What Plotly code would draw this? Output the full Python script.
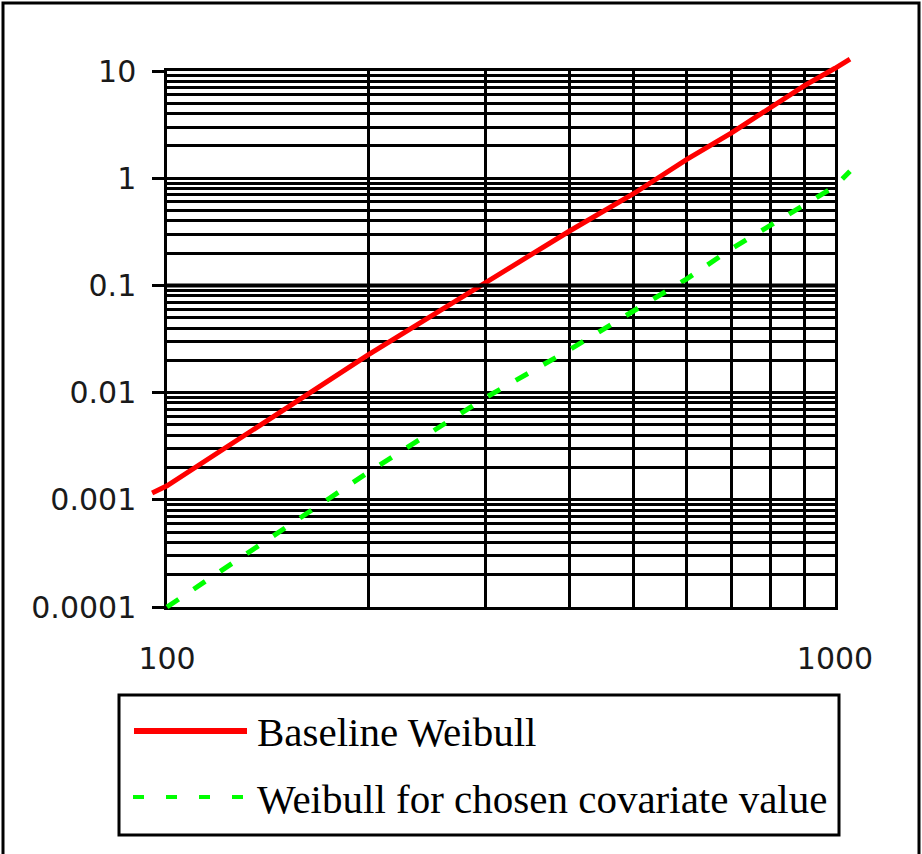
import plotly.graph_objects as go

# ---- data ----
x_base = [95, 100, 200, 300, 400, 500, 600, 700, 800, 900, 1000, 1053]
y_base = [0.00116, 0.00135, 0.0225, 0.108, 0.32, 0.72, 1.5, 2.65, 4.6, 7.3, 10.6, 12.9]
x_cov = [100, 200, 300, 400, 500, 600, 700, 800, 900, 1000, 1053]
y_cov = [0.0001, 0.0018, 0.009, 0.025, 0.058, 0.115, 0.22, 0.36, 0.57, 0.84, 1.16]

y_tickvals = [10, 1, 0.1, 0.01, 0.001, 0.0001]
y_ticktext = ["10", "1", "0.1", "0.01", "0.001", "0.0001"]
x_tickvals = [100, 1000]
x_ticktext = ["100", "1000"]
x_minor = [200, 300, 400, 500, 600, 700, 800, 900]
y_minor = [m * 10.0 ** e for e in range(-4, 1) for m in range(2, 10)]

series_names = ["Baseline Weibull", "Weibull for chosen covariate value"]

# ---- geometry (page body margin removed by post_script) ----
W, H = 922, 854
gx0, gx1 = 167, 835      # plot area in px
gy0, gy1 = 71, 607
xr = [2, 3]
yr = [-4, 1]
xdom = [gx0 / W, gx1 / W]
ydom = [1 - gy1 / H, 1 - gy0 / H]
ppx = (gx1 - gx0) / (xr[1] - xr[0])
ppy = (gy1 - gy0) / (yr[1] - yr[0])
x2r = [xr[0] - gx0 / ppx, xr[1] + (W - gx1) / ppx]
y2r = [yr[0] - (H - gy1) / ppy, yr[1] + gy0 / ppy]

tickfont = dict(family="DejaVu Sans", size=30, color="#1a1a1a")
GW = 2.5

fig = go.Figure()
fig.add_trace(go.Scatter(x=x_base, y=y_base, mode="lines", name=series_names[0],
                         line=dict(color="#ff0000", width=5), xaxis="x2", yaxis="y2",
                         showlegend=False))
fig.add_trace(go.Scatter(x=x_cov, y=y_cov, mode="lines", name=series_names[1],
                         line=dict(color="#00ff00", width=5, dash="14px,18px"),
                         xaxis="x2", yaxis="y2", showlegend=False))

fig.update_layout(
    width=W, height=H,
    margin=dict(l=0, r=0, t=0, b=0),
    paper_bgcolor="white", plot_bgcolor="rgba(0,0,0,0)",
    showlegend=False,
    xaxis=dict(type="log", range=xr, domain=xdom, anchor="y", automargin=False,
               tickvals=x_tickvals, ticktext=x_ticktext, ticks="", tickfont=tickfont,
               ticklabelstandoff=23,
               showgrid=True, gridcolor="black", gridwidth=GW,
               minor=dict(tickvals=x_minor, showgrid=True, gridcolor="black", gridwidth=GW, ticks=""),
               showline=True, linecolor="black", linewidth=GW, mirror=True, zeroline=False),
    yaxis=dict(type="log", range=yr, domain=ydom, anchor="x", automargin=False,
               tickvals=y_tickvals, ticktext=y_ticktext, ticks="outside", ticklen=12,
               tickwidth=GW, tickcolor="black", tickfont=tickfont, ticklabelstandoff=10,
               showgrid=True, gridcolor="black", gridwidth=GW,
               minor=dict(tickvals=y_minor, showgrid=True, gridcolor="black", gridwidth=GW, ticks=""),
               showline=True, linecolor="black", linewidth=GW, mirror=True, zeroline=False),
    xaxis2=dict(type="log", range=x2r, domain=[0, 1], anchor="y2", visible=False,
                showgrid=False, zeroline=False, automargin=False),
    yaxis2=dict(type="log", range=y2r, domain=[0, 1], anchor="x2", visible=False,
                showgrid=False, zeroline=False, automargin=False),
)

# thicker 0.1 gridline
fig.add_shape(type="line", xref="x", yref="y", x0=100, x1=1000, y0=0.1, y1=0.1,
              line=dict(color="black", width=4))


def px(x):
    return x / W


def py(y):
    return 1 - y / H


# outer frame
fig.add_shape(type="rect", xref="paper", yref="paper", x0=px(3), x1=px(919), y0=py(880), y1=py(3),
              line=dict(color="black", width=3), fillcolor="rgba(0,0,0,0)")
# legend box
fig.add_shape(type="rect", xref="paper", yref="paper", x0=px(119), x1=px(839), y0=py(835), y1=py(695),
              line=dict(color="black", width=3), fillcolor="rgba(0,0,0,0)")
fig.add_shape(type="line", xref="paper", yref="paper", x0=px(134), x1=px(247), y0=py(731), y1=py(731),
              line=dict(color="#ff0000", width=6))
fig.add_shape(type="line", xref="paper", yref="paper", x0=px(133), x1=px(248), y0=py(797), y1=py(797),
              line=dict(color="#00ff00", width=4, dash="11px,22px"))
legfont = dict(family="Liberation Serif", size=41, color="black")
for name, yc in zip(series_names, [732, 799]):
    fig.add_annotation(text=name, xref="paper", yref="paper", x=px(255), y=py(yc),
                       xanchor="left", yanchor="middle", showarrow=False, font=legfont)

fig.write_html("out.html", config={"displayModeBar": False},
               post_script="document.body.style.margin='0';document.body.style.overflow='hidden';")
